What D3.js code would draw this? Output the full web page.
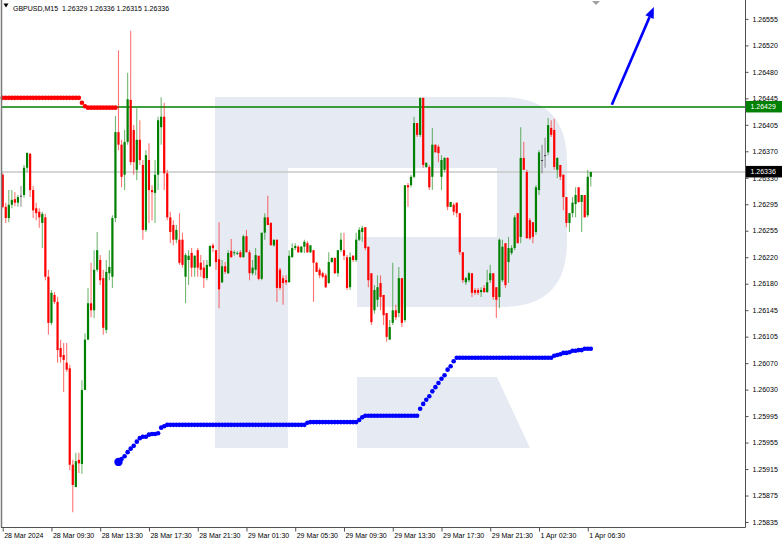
<!DOCTYPE html>
<html><head><meta charset="utf-8">
<script src="https://cdn.jsdelivr.net/npm/d3@7"></script>
<style>
html,body{margin:0;padding:0;background:#fff;}
svg{display:block;font-family:"Liberation Sans",Arial,sans-serif;}
</style></head><body>
<svg id="c" width="782" height="544"></svg>
<script>
const symbolLabel = "GBPUSD,M15";
const lastOHLC = ["1.26329","1.26336","1.26315","1.26336"];

const open = [1.26332,1.26286,1.26270,1.26289,1.26297,1.26292,1.26302,1.26303,1.26342,1.26362,
1.26310,1.26284,1.26279,1.26263,1.26271,1.26186,1.26120,1.26160,1.26150,1.26084,
1.26074,1.26063,1.26055,1.25917,1.25885,1.25924,1.25918,1.26024,1.26096,1.26148,
1.26138,1.26196,1.26210,1.26184,1.26110,1.26191,1.26186,1.26270,1.26393,1.26375,
1.26332,1.26379,1.26439,1.26396,1.26339,1.26382,1.26346,1.26253,1.26353,1.26310,
1.26306,1.26332,1.26400,1.26415,1.26334,1.26271,1.26260,1.26239,1.26239,1.26239,
1.26186,1.26210,1.26220,1.26199,1.26224,1.26206,1.26199,1.26184,1.26201,1.26231,
1.26224,1.26211,1.26178,1.26201,1.26191,1.26223,1.26220,1.26219,1.26221,1.26214,
1.26244,1.26221,1.26191,1.26196,1.26216,1.26183,1.26249,1.26271,1.26263,1.26231,
1.26239,1.26196,1.26184,1.26181,1.26178,1.26214,1.26227,1.26229,1.26221,1.26229,
1.26234,1.26221,1.26224,1.26206,1.26196,1.26191,1.26188,1.26177,1.26207,1.26213,
1.26191,1.26224,1.26224,1.26214,1.26171,1.26216,1.26210,1.26239,1.26250,1.26257,
1.26229,1.26191,1.26138,1.26153,1.26177,1.26160,1.26134,1.26096,1.26120,1.26138,
1.26134,1.26184,1.26124,1.26317,1.26317,1.26329,1.26406,1.26389,1.26442,1.26343,
1.26343,1.26329,1.26375,1.26372,1.26329,1.26339,1.26356,1.26286,1.26289,1.26292,
1.26277,1.26221,1.26178,1.26181,1.26191,1.26167,1.26167,1.26164,1.26170,1.26164,
1.26181,1.26191,1.26171,1.26157,1.26181,1.26234,1.26207,1.26220,1.26227,1.26277,
1.26243,1.26356,1.26336,1.26267,1.26264,1.26250,1.26310,1.26353,1.26360,1.26364,
1.26399,1.26396,1.26339,1.26346,1.26332,1.26300,1.26263,1.26277,1.26290,1.26314,
1.26293,1.26303,1.26274,1.26329];

const high = [1.26334,1.26292,1.26310,1.26310,1.26307,1.26303,1.26316,1.26346,1.26364,1.26363,
1.26316,1.26292,1.26284,1.26279,1.26276,1.26196,1.26167,1.26164,1.26157,1.26096,
1.26091,1.26091,1.26060,1.25924,1.25934,1.25934,1.26038,1.26105,1.26170,1.26206,
1.26224,1.26250,1.26217,1.26196,1.26210,1.26224,1.26274,1.26416,1.26510,1.26382,
1.26396,1.26478,1.26538,1.26403,1.26427,1.26410,1.26353,1.26367,1.26377,1.26317,
1.26353,1.26415,1.26443,1.26435,1.26339,1.26279,1.26267,1.26260,1.26277,1.26249,
1.26220,1.26224,1.26227,1.26217,1.26227,1.26217,1.26210,1.26210,1.26231,1.26234,
1.26224,1.26264,1.26210,1.26207,1.26224,1.26240,1.26224,1.26223,1.26224,1.26246,
1.26253,1.26224,1.26210,1.26227,1.26216,1.26249,1.26277,1.26302,1.26264,1.26239,
1.26239,1.26199,1.26188,1.26188,1.26224,1.26234,1.26234,1.26231,1.26230,1.26239,
1.26237,1.26231,1.26224,1.26207,1.26199,1.26193,1.26191,1.26221,1.26213,1.26213,
1.26224,1.26249,1.26249,1.26217,1.26221,1.26217,1.26249,1.26257,1.26259,1.26257,
1.26229,1.26191,1.26174,1.26188,1.26188,1.26160,1.26134,1.26124,1.26206,1.26146,
1.26200,1.26184,1.26317,1.26320,1.26332,1.26415,1.26406,1.26442,1.26442,1.26350,
1.26346,1.26399,1.26375,1.26375,1.26360,1.26357,1.26357,1.26293,1.26292,1.26292,
1.26277,1.26221,1.26186,1.26193,1.26191,1.26170,1.26170,1.26171,1.26174,1.26196,
1.26203,1.26191,1.26171,1.26241,1.26239,1.26234,1.26243,1.26231,1.26274,1.26277,
1.26400,1.26379,1.26339,1.26270,1.26264,1.26317,1.26367,1.26375,1.26385,1.26413,
1.26410,1.26412,1.26357,1.26346,1.26332,1.26300,1.26277,1.26300,1.26314,1.26314,
1.26303,1.26303,1.26339,1.26336];

const low = [1.26284,1.26263,1.26264,1.26284,1.26287,1.26286,1.26286,1.26299,1.26336,1.26300,
1.26270,1.26267,1.26256,1.26227,1.26181,1.26103,1.26117,1.26147,1.26063,1.26063,
1.26021,1.26050,1.25909,1.25849,1.25885,1.25905,1.25904,1.26024,1.26096,1.26128,
1.26127,1.26193,1.26174,1.26103,1.26105,1.26181,1.26170,1.26264,1.26367,1.26314,
1.26310,1.26375,1.26346,1.26332,1.26324,1.26346,1.26239,1.26250,1.26263,1.26267,
1.26263,1.26310,1.26375,1.26310,1.26267,1.26234,1.26231,1.26234,1.26203,1.26199,
1.26148,1.26174,1.26186,1.26186,1.26186,1.26186,1.26170,1.26181,1.26200,1.26221,
1.26196,1.26141,1.26177,1.26190,1.26190,1.26213,1.26216,1.26217,1.26213,1.26213,
1.26221,1.26181,1.26188,1.26188,1.26181,1.26181,1.26239,1.26260,1.26231,1.26229,
1.26150,1.26167,1.26146,1.26174,1.26178,1.26213,1.26224,1.26220,1.26220,1.26220,
1.26220,1.26220,1.26150,1.26193,1.26184,1.26184,1.26170,1.26176,1.26206,1.26190,
1.26186,1.26221,1.26210,1.26167,1.26167,1.26207,1.26207,1.26237,1.26236,1.26224,
1.26171,1.26117,1.26133,1.26143,1.26138,1.26117,1.26093,1.26096,1.26117,1.26124,
1.26128,1.26114,1.26121,1.26286,1.26314,1.26327,1.26386,1.26386,1.26342,1.26342,
1.26310,1.26310,1.26364,1.26350,1.26310,1.26336,1.26281,1.26286,1.26274,1.26271,
1.26217,1.26177,1.26174,1.26178,1.26157,1.26160,1.26160,1.26157,1.26163,1.26163,
1.26177,1.26153,1.26127,1.26141,1.26178,1.26170,1.26177,1.26217,1.26224,1.26234,
1.26234,1.26339,1.26241,1.26239,1.26234,1.26246,1.26303,1.26334,1.26342,1.26360,
1.26386,1.26339,1.26327,1.26324,1.26281,1.26257,1.26250,1.26271,1.26271,1.26292,
1.26250,1.26271,1.26271,1.26315];

const close = [1.26286,1.26270,1.26289,1.26296,1.26292,1.26300,1.26302,1.26342,1.26363,1.26310,
1.26281,1.26277,1.26271,1.26276,1.26186,1.26120,1.26163,1.26150,1.26081,1.26071,
1.26067,1.26053,1.25917,1.25888,1.25922,1.25919,1.26024,1.26096,1.26148,1.26138,
1.26196,1.26224,1.26181,1.26113,1.26193,1.26200,1.26270,1.26393,1.26375,1.26329,
1.26379,1.26440,1.26350,1.26350,1.26382,1.26353,1.26253,1.26360,1.26310,1.26307,
1.26332,1.26410,1.26415,1.26334,1.26271,1.26250,1.26239,1.26253,1.26206,1.26203,
1.26217,1.26216,1.26199,1.26216,1.26199,1.26196,1.26184,1.26203,1.26230,1.26227,
1.26207,1.26168,1.26201,1.26193,1.26220,1.26214,1.26221,1.26220,1.26214,1.26244,
1.26221,1.26191,1.26199,1.26217,1.26183,1.26249,1.26271,1.26260,1.26231,1.26239,
1.26170,1.26170,1.26177,1.26178,1.26216,1.26227,1.26230,1.26221,1.26229,1.26236,
1.26221,1.26231,1.26206,1.26193,1.26188,1.26186,1.26171,1.26207,1.26213,1.26191,
1.26224,1.26239,1.26216,1.26170,1.26214,1.26210,1.26239,1.26253,1.26256,1.26227,
1.26181,1.26121,1.26167,1.26171,1.26157,1.26131,1.26100,1.26114,1.26138,1.26128,
1.26184,1.26120,1.26317,1.26314,1.26329,1.26406,1.26389,1.26442,1.26346,1.26349,
1.26314,1.26375,1.26364,1.26363,1.26353,1.26356,1.26286,1.26293,1.26279,1.26277,
1.26221,1.26181,1.26184,1.26191,1.26163,1.26163,1.26163,1.26167,1.26164,1.26178,
1.26191,1.26157,1.26153,1.26239,1.26229,1.26174,1.26227,1.26227,1.26271,1.26234,
1.26356,1.26339,1.26241,1.26241,1.26243,1.26314,1.26364,1.26353,1.26360,1.26403,
1.26389,1.26343,1.26356,1.26329,1.26300,1.26263,1.26277,1.26292,1.26303,1.26293,
1.26303,1.26271,1.26329,1.26336];

// Parabolic SAR: red dots above price (bars 0..37), blue dots below (bars 38..193)
const sarRed = [1.26442,1.26442,1.26442,1.26442,1.26442,1.26442,1.26442,1.26442,1.26442,1.26442,
1.26442,1.26442,1.26442,1.26442,1.26442,1.26442,1.26442,1.26442,1.26442,1.26442,
1.26442,1.26442,1.26442,1.26442,1.26442,1.26442,1.26435,1.26430,1.26428,1.26428,
1.26428,1.26428,1.26428,1.26428,1.26428,1.26428,1.26428,1.26428];
const sarBlueStart = 38;
const sarBlue = [1.25921,1.25925,1.25929,1.25935,1.25940,1.25944,1.25950,1.25955,1.25957,1.25957,
1.25960,1.25961,1.25961,1.25962,1.25970,1.25972,1.25974,
1.25974,1.25974,1.25974,1.25974,1.25974,1.25974,1.25974,1.25974,1.25974,1.25974,
1.25974,1.25974,1.25974,1.25974,1.25974,1.25974,1.25974,1.25974,1.25974,1.25974,
1.25974,1.25974,1.25974,1.25974,1.25974,1.25974,1.25974,1.25974,1.25974,1.25974,
1.25974,1.25974,1.25974,1.25974,1.25974,1.25974,1.25974,1.25974,1.25974,1.25974,
1.25974,1.25974,1.25974,1.25974,1.25974,
1.25977,
1.25978,1.25978,1.25978,1.25978,1.25978,1.25978,1.25978,1.25978,1.25978,1.25978,
1.25978,1.25978,1.25978,1.25978,1.25978,1.25978,
1.25981,1.25985,
1.25987,1.25987,1.25987,1.25987,1.25987,1.25987,1.25987,1.25987,1.25987,1.25987,
1.25987,1.25987,1.25987,1.25987,1.25987,1.25987,1.25987,1.25987,
1.25997,1.26004,1.26010,1.26015,1.26022,1.26028,1.26034,1.26040,1.26045,1.26053,
1.26058,1.26065,1.26070,
1.26070,1.26070,1.26070,1.26070,1.26070,1.26070,1.26070,1.26070,1.26070,1.26070,
1.26070,1.26070,1.26070,1.26070,1.26070,1.26070,1.26070,1.26070,1.26070,1.26070,
1.26070,1.26070,1.26070,1.26070,1.26070,1.26070,1.26070,1.26070,1.26070,1.26070,
1.26070,
1.26073,1.26074,1.26075,1.26077,1.26077,1.26078,1.26080,1.26080,1.26081,1.26081,
1.26083,1.26083,1.26083];

const priceTicks = ["1.26555","1.26520","1.26480","1.26445","1.26405","1.26370","1.26330","1.26295",
"1.26255","1.26220","1.26180","1.26145","1.26105","1.26070","1.26030","1.25995","1.25955","1.25915",
"1.25875","1.25835"];
const timeTickIndex = [0,16,32,48,64,80,96,112,128,144,160,176,192];
const timeTickLabels = ["28 Mar 2024","28 Mar 09:30","28 Mar 13:30","28 Mar 17:30","28 Mar 21:30",
"29 Mar 01:30","29 Mar 05:30","29 Mar 09:30","29 Mar 13:30","29 Mar 17:30","29 Mar 21:30",
"1 Apr 02:30","1 Apr 06:30"];
const resistanceLevel = 1.26429;
const lastPrice = 1.26336;
const forecastFrom = [199.9, 1.26432];
const forecastTo = [213.7, 1.26572];
const chartShiftBar = 194.7;

// ---------- drawing ----------
const svg = d3.select("#c");
const W = 782, H = 544;
const plotL = 1, plotR = 745.5, plotT = 0.5, plotB = 527.5;

const x = d3.scaleLinear().domain([0, 193]).range([2.7, 590.8]);
const y = d3.scaleLinear().domain([1.25835, 1.26555]).range([522, 18.9]);

svg.append("rect").attr("width", W).attr("height", H).attr("fill", "#fff");

// watermark logo
const wm = svg.append("g").attr("fill", "#e6ebf3");
wm.append("rect").attr("x", 215).attr("y", 97).attr("width", 73).attr("height", 351);
wm.append("path").attr("d", "M287,97 H502 Q567,97 567,162 V242 Q567,307 502,307 H357 V237 H497 V168 H287 Z");
wm.append("path").attr("d", "M357,377 H497 L530,448 H357 Z");

const plot = svg.append("g");

// last price line (gray)
plot.append("line").attr("x1", plotL).attr("x2", plotR)
  .attr("y1", y(lastPrice)).attr("y2", y(lastPrice))
  .attr("stroke", "#c8c8c8").attr("stroke-width", 1.4);

// resistance line (green)
plot.append("line").attr("x1", plotL).attr("x2", plotR)
  .attr("y1", y(resistanceLevel)).attr("y2", y(resistanceLevel))
  .attr("stroke", "#008000").attr("stroke-width", 1.6);

// candles
const bars = d3.range(open.length).map(i => ({i, o: open[i], h: high[i], l: low[i], c: close[i]}));
const col = d => d.c > d.o ? "#008000" : (d.c < d.o ? "#ff0000" : "#404040");
const cg = plot.append("g");
cg.selectAll("line.w").data(bars).join("line").attr("class", "w")
  .attr("x1", d => x(d.i)).attr("x2", d => x(d.i))
  .attr("y1", d => y(d.h)).attr("y2", d => y(d.l))
  .attr("stroke", col).attr("stroke-opacity", 0.55).attr("stroke-width", 1.1);
cg.selectAll("rect.b").data(bars).join("rect").attr("class", "b")
  .attr("x", d => x(d.i) - 1.1).attr("width", 2.2)
  .attr("y", d => y(Math.max(d.o, d.c)))
  .attr("height", d => Math.max(1, Math.abs(y(d.o) - y(d.c))))
  .attr("fill", col);

// SAR dots
plot.append("g").selectAll("circle").data(sarRed).join("circle")
  .attr("cx", (d, i) => x(i)).attr("cy", d => y(d)).attr("r", 2.3).attr("fill", "#ff0000");
plot.append("g").selectAll("circle").data(sarBlue).join("circle")
  .attr("cx", (d, i) => x(i + sarBlueStart)).attr("cy", d => y(d))
  .attr("r", (d, i) => i === 0 ? 4.2 : 2.3).attr("fill", "#0000ff");

// forecast arrow
const ax1 = x(forecastFrom[0]), ay1 = y(forecastFrom[1]);
const ax2 = x(forecastTo[0]), ay2 = y(forecastTo[1]);
const ang = Math.atan2(ay2 - ay1, ax2 - ax1);
const hl = 11, hw = 4.5;
const bx = ax2 - hl * Math.cos(ang), by = ay2 - hl * Math.sin(ang);
plot.append("line").attr("x1", ax1).attr("y1", ay1).attr("x2", bx).attr("y2", by)
  .attr("stroke", "#0000ff").attr("stroke-width", 2.6);
plot.append("path").attr("fill", "#0000ff")
  .attr("d", `M${ax2},${ay2} L${bx + hw * Math.sin(ang)},${by - hw * Math.cos(ang)} L${bx - hw * Math.sin(ang)},${by + hw * Math.cos(ang)} Z`);

// chart shift marker
const sx = x(chartShiftBar);
svg.append("path").attr("d", `M${sx - 4},1 L${sx + 4},1 L${sx},5 Z`).attr("fill", "#a0a0a0");

// frame
svg.append("line").attr("x1", 1.5).attr("x2", 1.5).attr("y1", 0).attr("y2", plotB).attr("stroke", "#7a7a7a").attr("stroke-width", 1.5);
svg.append("line").attr("x1", 1).attr("x2", plotR).attr("y1", plotB).attr("y2", plotB).attr("stroke", "#505050");
svg.append("line").attr("x1", plotR).attr("x2", plotR).attr("y1", 0).attr("y2", plotB).attr("stroke", "#505050");

// price axis
const step = (1.26555 - 1.25835) / (priceTicks.length - 1);
const tickVals = priceTicks.map((t, i) => 1.26555 - i * step);
const yAxis = d3.axisRight(y).tickValues(tickVals).tickFormat((d, i) => priceTicks[i]).tickSize(3).tickPadding(4);
const ya = svg.append("g").attr("transform", `translate(${plotR},0)`).call(yAxis);
ya.select(".domain").remove();
ya.selectAll("line").attr("stroke", "#505050");
ya.selectAll("text").attr("font-size", 7).attr("fill", "#000").attr("font-family", "Liberation Sans, Arial, sans-serif");

// price tags
function tag(price, fill) {
  const g = svg.append("g");
  g.append("rect").attr("x", plotR + 0.5).attr("y", y(price) - 6).attr("width", 36).attr("height", 11.5).attr("fill", fill);
  g.append("text").attr("x", plotR + 5).attr("y", y(price) + 2.5).attr("font-size", 7).attr("fill", "#fff")
    .text(d3.format(".5f")(price));
}
tag(resistanceLevel, "#008000");
tag(lastPrice, "#000000");

// time axis
const xAxis = d3.axisBottom(x).tickValues(timeTickIndex).tickFormat((d, i) => timeTickLabels[i]).tickSize(4).tickPadding(2);
const xa = svg.append("g").attr("transform", `translate(0,${plotB})`).call(xAxis);
xa.select(".domain").remove();
xa.selectAll("line").attr("stroke", "#505050");
xa.selectAll("text").attr("font-size", 7).attr("fill", "#000").attr("text-anchor", "start").attr("dx", 1)
  .attr("font-family", "Liberation Sans, Arial, sans-serif");

// header
svg.append("path").attr("d", "M3.5,3.5 L8.5,3.5 L6,7.5 Z").attr("fill", "#000");
svg.append("text").attr("x", 13).attr("y", 10.5).attr("font-size", 7).attr("fill", "#000")
  .attr("xml:space", "preserve")
  .text(symbolLabel + "  " + lastOHLC.join(" "));
</script>
</body></html>
